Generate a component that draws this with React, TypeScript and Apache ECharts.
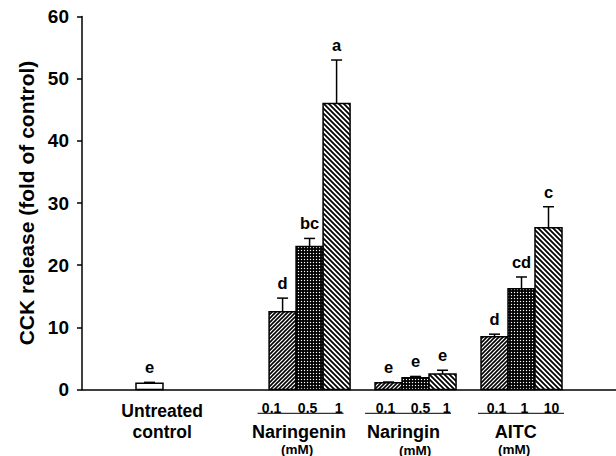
import React, { useEffect, useRef } from "react";
import * as echarts from "echarts";

// ---------------- data ----------------
const Y_TITLE = "CCK release (fold of control)";
const Y_MIN = 0;
const Y_MAX = 60;
const Y_INTERVAL = 10;

const CONTROL_LABEL = ["Untreated", "control"];
const CONTROL_VALUE = 1.0;
const CONTROL_ERROR = 0.15;
const CONTROL_LETTER = "e";

const GROUPS = ["Naringenin", "Naringin", "AITC"];
const CONCENTRATIONS = [
  ["0.1", "0.5", "1"],
  ["0.1", "0.5", "1"],
  ["0.1", "1", "10"],
];
const VALUES = [
  [12.5, 23.0, 46.0],
  [1.1, 1.9, 2.5],
  [8.5, 16.2, 26.0],
];
const ERRORS = [
  [2.2, 1.3, 7.0],
  [0.1, 0.2, 0.6],
  [0.4, 1.9, 3.4],
];
const LETTERS = [
  ["d", "bc", "a"],
  ["e", "e", "e"],
  ["d", "cd", "c"],
];
const UNIT_LABEL = "(mM)";

// ---------------- layout ----------------
const X_MAX = 19.78; // x axis in bar-width units
const CONTROL_X = 2.5;
const FIRST_GROUP_X = 8.43;
const GROUP_STEP = 3.925;
const FONT = "'Liberation Sans', Arial, Helvetica, sans-serif";
const CONC_DX = [
  [-11, -2, 2],
  [-3, 5, 4],
  [2, 3, 3],
];
const LINE_DX = [-9, -7.5, -0.5];
const LINE_HALF = 43;
const NAME_DX = [-10.5, -12, -5.7];
const UNIT_DX = [-12.5, -0.5, -7.3];
const UNIT_DY = [59.5, 60.5, 59.5];

function svgPattern(svg: string, size: number) {
  return {
    image: "data:image/svg+xml;charset=utf-8," + encodeURIComponent(svg),
    repeat: "repeat",
    imageWidth: size,
    imageHeight: size,
  };
}

const PATTERNS: any[] = [
  "#ffffff",
  svgPattern(
    "<svg xmlns='http://www.w3.org/2000/svg' width='4' height='4'><rect width='4' height='4' fill='white'/><path d='M-1,1 L1,-1 M0,4 L4,0 M3,5 L5,3' stroke='black' stroke-width='1.6'/></svg>",
    4
  ),
  svgPattern(
    "<svg xmlns='http://www.w3.org/2000/svg' width='3' height='3'><rect width='3' height='3' fill='black'/><rect x='0.9' y='0.9' width='1.2' height='1.2' fill='white'/></svg>",
    3
  ),
  svgPattern(
    "<svg xmlns='http://www.w3.org/2000/svg' width='5' height='5'><rect width='5' height='5' fill='white'/><path d='M-1,4 L1,6 M0,0 L5,5 M4,-1 L6,1' stroke='black' stroke-width='1.8'/></svg>",
    5
  ),
];

type Bar = { x: number; value: number; err: number; pattern: number; letter: string };

function buildBars(): Bar[] {
  const bars: Bar[] = [
    { x: CONTROL_X, value: CONTROL_VALUE, err: CONTROL_ERROR, pattern: 0, letter: CONTROL_LETTER },
  ];
  GROUPS.forEach((_, g) => {
    VALUES[g].forEach((v, i) => {
      bars.push({
        x: FIRST_GROUP_X + g * GROUP_STEP + (i - 1),
        value: v,
        err: ERRORS[g][i],
        pattern: i + 1,
        letter: LETTERS[g][i],
      });
    });
  });
  return bars;
}

export default function App() {
  const ref = useRef<HTMLDivElement>(null);

  useEffect(() => {
    if (!ref.current) return;
    const chart = echarts.init(ref.current, undefined, { renderer: "svg" });
    const bars = buildBars();

    const barSeries = {
      type: "custom",
      data: bars.map((b) => [b.x, b.value + b.err]),
      clip: false,
      renderItem: (params: any, api: any) => {
        const b = bars[params.dataIndex];
        const top = api.coord([b.x, b.value]);
        const base = api.coord([b.x, 0]);
        const errTop = api.coord([b.x, b.value + b.err]);
        const w = api.size([1, 0])[0];
        const cx = top[0];
        return {
          type: "group",
          children: [
            {
              type: "line",
              shape: { x1: cx, y1: top[1], x2: cx, y2: errTop[1] },
              style: { stroke: "#000", lineWidth: 1.5 },
            },
            {
              type: "line",
              shape: { x1: cx - 5.5, y1: errTop[1], x2: cx + 5.5, y2: errTop[1] },
              style: { stroke: "#000", lineWidth: 1.5 },
            },
            {
              type: "rect",
              shape: { x: cx - w / 2, y: top[1], width: w, height: base[1] - top[1] },
              style: { fill: PATTERNS[b.pattern], stroke: "#000", lineWidth: 1.5 },
            },
            {
              type: "text",
              x: cx,
              y: errTop[1] - 15,
              style: {
                text: b.letter,
                fill: "#000",
                font: `bold 16.5px ${FONT}`,
                align: "center",
                verticalAlign: "middle",
              },
            },
          ],
        };
      },
      z: 3,
    };

    const annotationSeries = {
      type: "custom",
      data: [[CONTROL_X, 0], ...GROUPS.map((_, g) => [FIRST_GROUP_X + g * GROUP_STEP, 0])],
      clip: false,
      renderItem: (params: any, api: any) => {
        const idx = params.dataIndex;
        const p = api.coord([api.value(0), 0]);
        const cx = p[0];
        const y0 = p[1];
        if (idx === 0) {
          return {
            type: "group",
            children: CONTROL_LABEL.map((t, k) => ({
              type: "text",
              x: cx + 12.7,
              y: y0 + 21.5 + k * 20.6,
              style: {
                text: t,
                fill: "#000",
                font: `bold 17.5px ${FONT}`,
                align: "center",
                verticalAlign: "middle",
              },
            })),
          };
        }
        const g = idx - 1;
        const w = api.size([1, 0])[0];
        const children: any[] = CONCENTRATIONS[g].map((c, i) => ({
          type: "text",
          x: cx + (i - 1) * w + CONC_DX[g][i],
          y: y0 + 18.2,
          style: {
            text: c,
            fill: "#000",
            font: `bold 14px ${FONT}`,
            align: "center",
            verticalAlign: "middle",
          },
        }));
        children.push({
          type: "line",
          shape: {
            x1: cx + LINE_DX[g] - LINE_HALF,
            y1: y0 + 23.8,
            x2: cx + LINE_DX[g] + LINE_HALF,
            y2: y0 + 23.8,
          },
          style: { stroke: "#000", lineWidth: 1 },
        });
        children.push({
          type: "text",
          x: cx + NAME_DX[g],
          y: y0 + 42.1,
          style: {
            text: GROUPS[g],
            fill: "#000",
            font: `bold 18px ${FONT}`,
            align: "center",
            verticalAlign: "middle",
          },
        });
        children.push({
          type: "text",
          x: cx + UNIT_DX[g],
          y: y0 + UNIT_DY[g],
          style: {
            text: UNIT_LABEL,
            fill: "#000",
            font: `bold 13.5px ${FONT}`,
            align: "center",
            verticalAlign: "middle",
          },
        });
        return { type: "group", children };
      },
      z: 3,
    };

    chart.setOption({
      animation: false,
      backgroundColor: "#ffffff",
      grid: { left: 82, right: 0, top: 16.5, bottom: 66.5 },
      xAxis: {
        type: "value",
        min: 0,
        max: X_MAX,
        axisLine: { show: true, onZero: true, lineStyle: { color: "#000", width: 1.5 } },
        axisTick: { show: false },
        axisLabel: { show: false },
        splitLine: { show: false },
      },
      yAxis: {
        type: "value",
        min: Y_MIN,
        max: Y_MAX,
        interval: Y_INTERVAL,
        name: Y_TITLE,
        nameLocation: "middle",
        nameGap: 44,
        nameRotate: 90,
        nameTextStyle: { color: "#000", fontWeight: "bold", fontSize: 21, fontFamily: FONT },
        axisLine: { show: true, lineStyle: { color: "#000", width: 1.5 } },
        axisTick: { show: true, length: 5, lineStyle: { color: "#000", width: 1.5 } },
        axisLabel: { color: "#000", fontWeight: "bold", fontSize: 19, fontFamily: FONT, margin: 13 },
        splitLine: { show: false },
      },
      series: [barSeries, annotationSeries],
    });

    return () => chart.dispose();
  }, []);

  return (
    <div
      ref={ref}
      style={{ position: "fixed", left: 0, top: 0, width: 616, height: 456, background: "#fff" }}
    />
  );
}
